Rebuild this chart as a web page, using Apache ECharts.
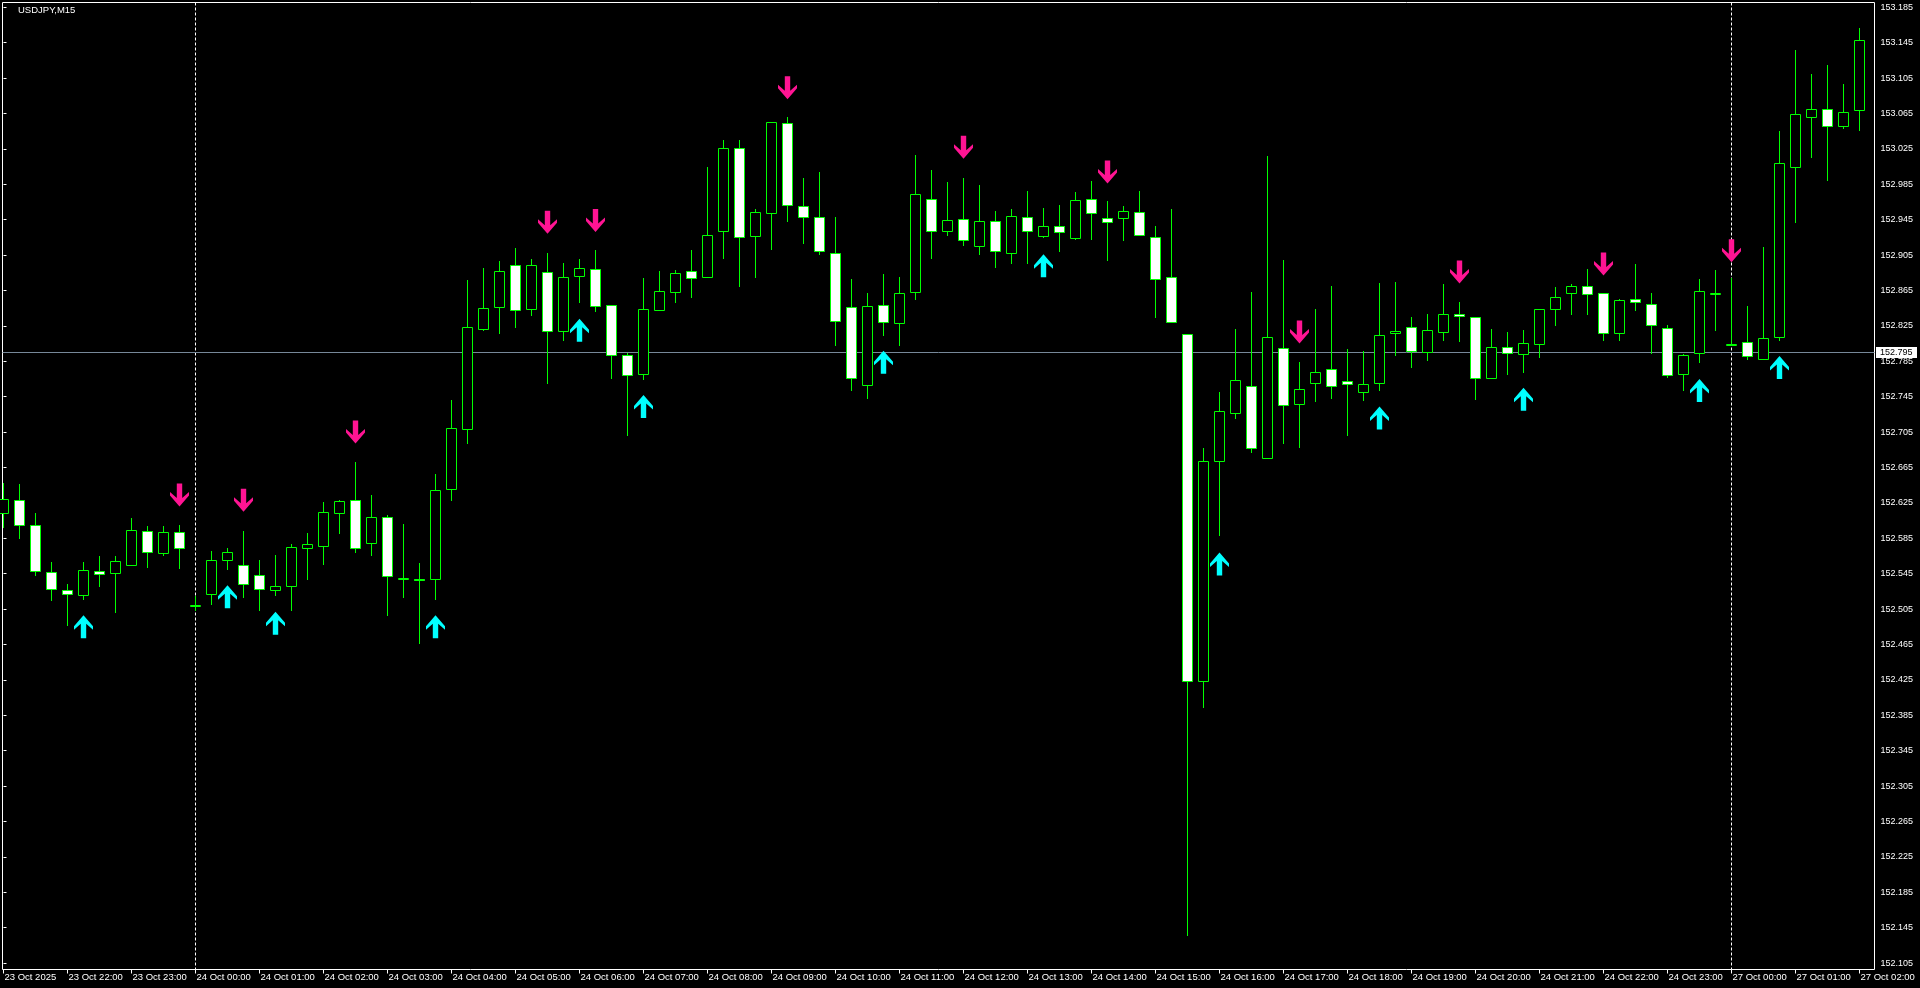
<!DOCTYPE html>
<html>
<head>
<meta charset="utf-8">
<script src="https://cdn.jsdelivr.net/npm/echarts@6.0.0/dist/echarts.min.js"></script>
<style>
html,body{margin:0;padding:0;background:#000;}
#c{width:1920px;height:988px;}
</style>
</head>
<body>
<div id="c"></div>
<script>
// ---- data (USDJPY M15), index 0 = 23 Oct 21:00 ----
const open = [152.613,152.628,152.599,152.546,152.526,152.520,152.548,152.545,152.554,152.593,
152.568,152.591,152.509,152.522,152.560,152.554,152.543,152.526,152.530,152.574,
152.576,152.613,152.628,152.579,152.609,152.540,152.539,152.539,152.640,152.708,
152.821,152.846,152.893,152.843,152.885,152.819,152.881,152.889,152.848,152.791,
152.770,152.842,152.863,152.886,152.880,152.932,153.025,152.926,152.952,153.054,
152.960,152.948,152.907,152.846,152.758,152.848,152.828,152.863,152.968,152.932,
152.945,152.915,152.943,152.907,152.948,152.926,152.937,152.924,152.968,152.946,
152.946,152.953,152.925,152.880,152.815,152.423,152.672,152.726,152.756,152.675,
152.799,152.736,152.760,152.776,152.762,152.750,152.760,152.816,152.823,152.795,
152.818,152.838,152.834,152.765,152.801,152.793,152.804,152.844,152.862,152.869,
152.862,152.816,152.855,152.849,152.822,152.770,152.794,152.862,152.804,152.806,
152.787,152.812,153.004,153.060,153.070,153.050,153.068];
const high = [152.647,152.646,152.613,152.558,152.533,152.558,152.564,152.564,152.607,152.598,
152.598,152.600,152.519,152.570,152.573,152.593,152.560,152.566,152.578,152.590,
152.626,152.628,152.671,152.633,152.611,152.601,152.557,152.657,152.741,152.876,
152.890,152.898,152.913,152.900,152.907,152.896,152.900,152.910,152.848,152.794,
152.879,152.886,152.888,152.910,153.004,153.034,153.035,152.957,153.055,153.060,
152.991,152.998,152.948,152.877,152.862,152.883,152.880,153.017,153.001,152.987,
152.992,152.984,152.954,152.956,152.977,152.958,152.961,152.976,152.988,152.965,
152.960,152.977,152.937,152.957,152.815,152.686,152.750,152.821,152.863,153.016,
152.899,152.784,152.844,152.869,152.798,152.796,152.873,152.874,152.834,152.838,
152.872,152.851,152.834,152.821,152.818,152.820,152.844,152.868,152.872,152.889,
152.862,152.855,152.894,152.862,152.826,152.793,152.877,152.888,152.878,152.847,
152.914,153.045,153.136,153.109,153.119,153.098,153.161];
const low = [152.597,152.585,152.543,152.515,152.487,152.516,152.530,152.501,152.554,152.552,
152.566,152.551,152.503,152.510,152.550,152.518,152.503,152.520,152.503,152.539,
152.555,152.590,152.569,152.566,152.498,152.518,152.466,152.516,152.628,152.692,
152.820,152.816,152.823,152.837,152.760,152.808,152.851,152.841,152.765,152.701,
152.764,152.842,152.852,152.857,152.880,152.901,152.869,152.880,152.911,152.943,
152.918,152.906,152.803,152.752,152.743,152.814,152.803,152.855,152.901,152.927,
152.916,152.906,152.891,152.896,152.896,152.925,152.909,152.923,152.923,152.899,
152.921,152.927,152.835,152.829,152.136,152.394,152.588,152.720,152.682,152.675,
152.692,152.688,152.740,152.743,152.701,152.741,152.752,152.792,152.778,152.786,
152.808,152.807,152.742,152.765,152.770,152.772,152.789,152.825,152.838,152.838,
152.808,152.808,152.842,152.794,152.767,152.752,152.784,152.820,152.803,152.787,
152.787,152.809,152.942,153.015,152.989,153.048,153.046];
const close = [152.629,152.600,152.548,152.527,152.521,152.549,152.544,152.559,152.594,152.569,
152.592,152.574,152.509,152.560,152.569,152.533,152.527,152.530,152.575,152.578,
152.614,152.627,152.573,152.609,152.542,152.540,152.538,152.639,152.709,152.823,
152.845,152.887,152.842,152.893,152.819,152.880,152.890,152.847,152.791,152.769,
152.844,152.864,152.884,152.879,152.927,153.025,152.925,152.953,153.055,152.961,
152.947,152.909,152.830,152.766,152.847,152.829,152.862,152.973,152.932,152.944,
152.921,152.943,152.909,152.949,152.932,152.937,152.931,152.967,152.952,152.942,
152.954,152.927,152.877,152.829,152.423,152.672,152.728,152.763,152.687,152.812,
152.735,152.753,152.772,152.757,152.759,152.759,152.814,152.819,152.796,152.820,
152.838,152.836,152.766,152.801,152.794,152.805,152.844,152.857,152.869,152.861,
152.816,152.854,152.851,152.825,152.769,152.792,152.864,152.862,152.804,152.790,
152.811,153.009,153.064,153.070,153.050,153.066,153.147];

// signal arrows
const upIdx   = [5,14,17,27,36,40,55,65,76,86,95,106,111];
const upPrice = [152.485,152.519,152.489,152.485,152.820,152.734,152.784,152.893,152.556,152.721,152.742,152.752,152.778];
const downIdx   = [11,15,22,34,37,49,60,69,81,91,100,108];
const downPrice = [152.634,152.628,152.705,152.942,152.944,153.094,153.027,152.999,152.818,152.886,152.895,152.910];

// period separators and price line
const separatorIdx = [12,108];
const bidPrice = [152.795];

// axis tick labels
const yTicks = [153.185,153.145,153.105,153.065,153.025,152.985,152.945,152.905,152.865,152.825,
152.785,152.745,152.705,152.665,152.625,152.585,152.545,152.505,152.465,152.425,
152.385,152.345,152.305,152.265,152.225,152.185,152.145,152.105];
const xLabelIdx = [0,4,8,12,16,20,24,28,32,36,40,44,48,52,56,60,64,68,72,76,80,84,88,92,96,100,104,108,112,116];
const xLabelText = ['23 Oct 2025','23 Oct 22:00','23 Oct 23:00','24 Oct 00:00','24 Oct 01:00','24 Oct 02:00',
'24 Oct 03:00','24 Oct 04:00','24 Oct 05:00','24 Oct 06:00','24 Oct 07:00','24 Oct 08:00','24 Oct 09:00',
'24 Oct 10:00','24 Oct 11:00','24 Oct 12:00','24 Oct 13:00','24 Oct 14:00','24 Oct 15:00','24 Oct 16:00',
'24 Oct 17:00','24 Oct 18:00','24 Oct 19:00','24 Oct 20:00','24 Oct 21:00','24 Oct 22:00','24 Oct 23:00',
'27 Oct 00:00','27 Oct 01:00','27 Oct 02:00'];

// ---- chart ----
const FONT = '"Liberation Sans", Arial, sans-serif';
const GREEN = '#00ff00';
const candleData = open.map((o, i) => [i, o, close[i], low[i], high[i]]);
const px = v => Math.round(v - 0.5) + 0.5;

function renderCandle(params, api) {
  const i = api.value(0), o = api.value(1), c = api.value(2), l = api.value(3), h = api.value(4);
  const x = px(api.coord([i, o])[0]);
  const yO = px(api.coord([i, o])[1]);
  const yC = px(api.coord([i, c])[1]);
  const yH = px(api.coord([i, h])[1]);
  const yL = px(api.coord([i, l])[1]);
  let top = Math.min(yO, yC), bot = Math.max(yO, yC);
  if (bot - top < 1) bot = top + 1;
  return {
    type: 'group',
    children: [
      {type: 'line', shape: {x1: x, y1: yH - 0.5, x2: x, y2: yL + 0.5}, style: {stroke: GREEN, lineWidth: 1}},
      {type: 'rect', shape: {x: x - 5, y: top, width: 10, height: bot - top},
       style: {fill: c < o ? '#ffffff' : '#000000', stroke: GREEN, lineWidth: 1}}
    ]
  };
}

function renderSeparator(params, api) {
  const cs = params.coordSys;
  const x = px(api.coord([api.value(0), yTicks[0]])[0]);
  return {type: 'line', shape: {x1: x, y1: cs.y, x2: x, y2: cs.y + cs.height},
          style: {stroke: '#ffffff', lineWidth: 1, lineDash: [3, 2]}};
}

function renderBid(params, api) {
  const cs = params.coordSys;
  const v = api.value(0);
  const y = px(api.coord([0, v])[1]);
  const xr = cs.x + cs.width;
  return {
    type: 'group',
    children: [
      {type: 'line', shape: {x1: cs.x, y1: y, x2: xr, y2: y}, style: {stroke: '#778899', lineWidth: 1}},
      {type: 'rect', shape: {x: xr + 1.5, y: y - 5.5, width: 41, height: 11}, style: {fill: '#ffffff'}},
      {type: 'text', style: {x: xr + 5.5, y: y, text: v.toFixed(3), fill: '#000000',
        font: '9px ' + FONT, textVerticalAlign: 'middle', verticalAlign: 'middle'}}
    ]
  };
}

const UP_PATH = 'path://M9.5,0 L19,11 L19,14.5 L12.2,8.5 L12.2,23 L6.8,23 L6.8,8.5 L0,14.5 L0,11 Z';
const DOWN_PATH = 'path://M9.5,23 L19,12 L19,8.5 L12.2,14.5 L12.2,0 L6.8,0 L6.8,14.5 L0,8.5 L0,12 Z';

const chart = echarts.init(document.getElementById('c'), null, {renderer: 'canvas'});
chart.setOption({
  animation: false,
  backgroundColor: '#000000',
  title: {
    text: 'USDJPY,M15', left: 18, top: 5, padding: 0,
    textStyle: {color: '#ffffff', fontSize: 9.5, fontWeight: 'normal', fontFamily: FONT}
  },
  grid: {
    left: 2.5, right: 45.5, top: 2.5, bottom: 18.5,
    show: true, borderColor: '#ffffff', borderWidth: 1, backgroundColor: '#000000'
  },
  xAxis: {
    type: 'value', min: -0.0625, max: 116.9375,
    axisLine: {show: false},
    splitLine: {show: false},
    axisTick: {show: true, customValues: xLabelIdx, length: 4, lineStyle: {color: '#ffffff'}},
    axisLabel: {
      customValues: xLabelIdx, color: '#ffffff', fontSize: 9.5, fontFamily: FONT,
      align: 'left', margin: 3, padding: [0, 0, 0, 1],
      formatter: v => xLabelText[xLabelIdx.indexOf(Math.round(v))]
    }
  },
  yAxis: {
    type: 'value', position: 'right',
    min: 152.097765, max: 153.19042,
    axisLine: {show: false},
    splitLine: {show: false},
    axisTick: {show: true, customValues: yTicks, length: 3, lineStyle: {color: '#ffffff'}},
    axisLabel: {
      customValues: yTicks, color: '#ffffff', fontSize: 9, fontFamily: FONT, margin: 6,
      formatter: v => v.toFixed(3)
    }
  },
  series: [
    {type: 'custom', name: 'separators', renderItem: renderSeparator, data: separatorIdx.map(v => [v]), z: 1, silent: true},
    {type: 'custom', name: 'bid', renderItem: renderBid, data: bidPrice.map(v => [v]), z: 2, silent: true},
    {type: 'custom', name: 'candles', renderItem: renderCandle, data: candleData,
     dimensions: ['i', 'open', 'close', 'low', 'high'], encode: {x: 0, y: [1, 2, 3, 4]}, z: 3, silent: true},
    {type: 'scatter', name: 'buy', symbol: UP_PATH, symbolSize: [19, 23],
     data: upIdx.map((v, k) => [v, upPrice[k]]), itemStyle: {color: '#00ffff', opacity: 1}, z: 4, silent: true},
    {type: 'scatter', name: 'sell', symbol: DOWN_PATH, symbolSize: [19, 23],
     data: downIdx.map((v, k) => [v, downPrice[k]]), itemStyle: {color: '#ff1493', opacity: 1}, z: 4, silent: true}
  ]
});
</script>
</body>
</html>
